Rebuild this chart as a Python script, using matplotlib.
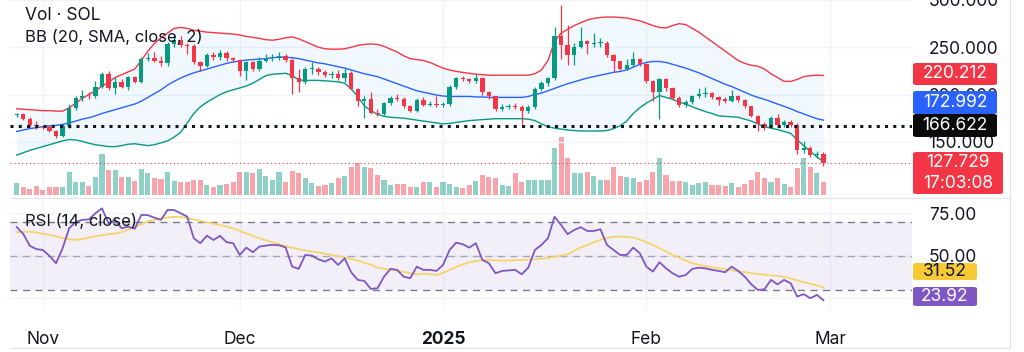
import numpy as np
import pandas as pd
import matplotlib
matplotlib.use('Agg')
import matplotlib.pyplot as plt
import matplotlib.dates as mdates
from matplotlib.patches import FancyBboxPatch
from matplotlib.lines import Line2D

plt.rcParams['font.family'] = ['Inter', 'DejaVu Sans']

# daily SOL candles, 28 Oct 2024 .. 28 Feb 2025
dates = pd.date_range('2024-10-28', '2025-02-28', freq='D')

opens = [178, 179.5, 174.7, 167.5, 166.5, 166, 162, 156.5, 167, 185.5,
         196, 199, 198, 208, 222, 206.5, 213, 208.5, 218.5, 213,
         238, 238.5, 235.5, 233, 253, 258, 252.5, 251, 234.5, 230,
         242, 239.5, 244, 238.5, 236.5, 225, 234, 227.5, 235, 239,
         239.5, 241, 237, 217, 213, 227, 227.5, 223.5, 220.5, 222,
         217, 223, 206, 193, 195, 181, 179, 191, 196, 195.5,
         187.5, 183, 194.5, 189.5, 190.5, 188.5, 190.5, 208, 217.5, 216.5,
         214, 218, 202.5, 198, 185, 187, 187.5, 187, 182.5, 186.5,
         206, 212, 217, 262, 252.5, 241.5, 250, 257, 254, 254.5,
         255, 241.5, 235, 227.5, 231.5, 238, 232, 214, 203, 216.5,
         206.5, 196, 189, 192.5, 198.5, 201, 201.5, 197, 195.5, 193.5,
         198.5, 194, 187.5, 177, 169, 166, 175.5, 168, 171, 168,
         141, 144, 136, 137.5]
highs = [181, 180.5, 176, 172, 168, 168, 163, 169, 190, 198,
         205, 203, 214, 224, 225, 219, 216, 220, 220, 240,
         244, 245, 241, 256, 264, 262, 255, 253, 236, 244,
         245, 247, 246, 240, 238, 236, 236, 240, 243, 243,
         245, 243, 239, 227, 229, 234, 229, 226, 225, 226,
         229, 225, 207, 199, 203, 185, 192, 198, 201, 197,
         189, 196, 197, 193, 198, 192, 210, 219, 220, 218,
         222, 219, 204, 199, 190, 190, 191, 189, 189, 208,
         214, 219, 271, 295, 274, 255, 271, 258, 265, 260,
         257, 243, 236, 238, 245, 239, 233, 215, 218, 218,
         208, 198, 194, 200, 207, 208, 203, 198, 197, 205,
         200, 195, 188, 178, 171, 177, 179, 173, 173, 170,
         151, 146, 140, 139]
lows = [176, 173.5, 166, 164, 164, 160, 154.5, 155, 165, 184,
        193, 195, 196, 207, 205, 201, 207, 205, 212, 212,
        235, 234, 230, 230, 250, 250, 243, 232, 225, 229,
        237, 237, 236, 234, 220, 215, 225, 225, 234, 236,
        237, 234, 201, 203, 211, 222, 221, 219, 218, 215,
        213.5, 205, 188, 175, 179, 177.5, 177, 189, 193, 186,
        182, 182, 188, 188, 187, 187, 188, 206, 214, 212,
        212, 200, 195, 183, 183, 185, 185, 168.5, 180, 185,
        204, 209, 215, 238, 231, 231, 249, 243, 250, 250,
        240, 224, 226, 226, 229, 230, 212, 193, 174, 204,
        194, 187, 187, 190, 196, 197, 195, 189, 191, 192,
        192, 186, 176, 161.5, 163, 165, 166, 166, 166, 137,
        138, 134, 133, 125]
closes = [179, 174.7, 167.5, 166.5, 166, 161.5, 156.5, 167, 185.5, 196,
          199, 198, 208, 222, 206.5, 213, 208.5, 218.5, 213, 238,
          238.5, 235.5, 233, 253, 258, 252.5, 251, 234.5, 230, 242,
          239.5, 244, 238.5, 236.5, 225, 234, 227.5, 235, 239, 239.5,
          241, 237, 217, 213, 227, 227.5, 223.5, 220.5, 222, 217,
          223, 206, 193, 195, 181, 179, 191, 196, 195.5, 187.5,
          183, 194.5, 189.5, 190.5, 188.5, 190.5, 208, 217.5, 216.5, 214,
          218, 202.5, 198, 185, 187, 187.5, 187, 182.5, 186.5, 206,
          212, 217, 262, 252.5, 241.5, 250, 257, 254, 254.5, 255,
          241.5, 235, 227.5, 231.5, 238, 232, 214, 203, 216.5, 206.5,
          196, 189, 192.5, 198.5, 201, 201.5, 197, 194.5, 193.5, 198.5,
          194, 187.5, 177, 169, 166, 175.5, 168, 171, 168, 141,
          144, 136, 137, 127.729]
volume = [12.3, 8.3, 5.7, 9, 5, 7.7, 7.7, 8.3, 23.3, 13.3,
          13.3, 9, 17.7, 41, 25, 25, 18.3, 18.3, 14.3, 25.7,
          21.7, 16.7, 15.7, 23.3, 14.3, 13.3, 13.3, 15, 15, 10,
          8.3, 10, 11, 13.3, 23.3, 23.3, 21.7, 25.7, 19, 15,
          23, 13.3, 24.3, 22.3, 16.7, 12, 9, 10, 12.3, 16.7,
          19, 27.7, 31.7, 27.7, 26.7, 20, 15, 10, 11, 11,
          8.3, 7.7, 13.3, 13.3, 8.3, 13.3, 11, 7.7, 6.7, 10,
          14.3, 20, 18.3, 16.7, 10, 9, 21.7, 13.3, 15, 15,
          15, 15, 46.7, 57.7, 36.7, 21.7, 21.7, 23.3, 19, 15,
          15, 28.3, 19, 18.3, 16.7, 13.3, 15, 23.3, 36.7, 20,
          14, 14, 13.3, 10, 12.3, 13.3, 10, 10, 9, 11.7,
          8.3, 11, 15, 23.3, 16.7, 13.3, 16.7, 11, 8.3, 26.7,
          36.7, 28.3, 22.3, 13.3]

# Bollinger Bands (20, SMA, close, 2)
bb_upper = [185, 184.5, 184, 183.5, 183, 183, 182.5, 182.5, 186, 191,
            196, 200, 204, 209, 213, 218, 221, 224, 227, 236,
            246, 254, 260, 265, 270, 271, 270, 268, 267, 266,
            265.5, 265, 264.5, 264, 263, 261.5, 260.5, 259.5, 258, 257.5,
            258.5, 260, 261, 259, 256, 253, 250, 248.5, 248, 248,
            248.5, 250, 252, 253, 253.5, 253, 251, 248, 245, 241,
            238, 237, 236, 234, 231, 228, 226, 224.5, 223.5, 222.5,
            221.5, 221, 220.5, 220.5, 220.5, 220.5, 220.5, 220.5, 220.5, 222,
            226, 236, 256, 265, 269, 273, 276, 279, 280.5, 281.5,
            282, 282, 281.5, 281, 279.5, 278, 275.5, 273, 271, 270.5,
            273, 275, 274, 270, 266, 261, 256, 251, 246, 241,
            236, 233, 231, 230, 227, 222, 218, 214, 214, 216,
            219, 220, 220.5, 220.212]
bb_basis = [161, 162.5, 164, 165, 166, 167, 167.5, 168.5, 170, 172,
            174, 175.5, 177.5, 180, 182, 184, 186, 188, 190, 193,
            197, 201, 205, 210, 214, 217.5, 220.5, 223, 225, 227,
            229, 231, 233, 234.5, 235.5, 236.5, 237, 237.5, 238, 239,
            239.5, 239.5, 239, 238, 236.5, 235, 233.5, 232.5, 231, 229.5,
            228, 226, 224, 222, 220.5, 219, 216.5, 214, 211.5, 209,
            206.5, 204, 202.5, 201, 199.5, 198.5, 198, 198, 198, 198,
            197.5, 197.5, 197, 197, 197, 197, 197, 197, 198, 200,
            201.5, 204, 206.5, 209, 211.5, 213.5, 215.5, 217.5, 219, 220.5,
            222, 223.5, 224.5, 226, 229, 232, 234, 235, 235, 234,
            232, 230, 228, 225.5, 223, 220, 217, 214, 211, 208.5,
            205.5, 202.5, 199.5, 197, 195, 192.5, 190, 187.5, 185, 182,
            179.5, 177, 174.5, 172.992]
bb_lower = [136, 138.5, 141, 143, 145, 147, 149, 151, 152.5, 152,
            150.5, 148.5, 147, 146, 145, 145, 146, 147.5, 148, 147,
            146, 147, 149, 151, 155, 160, 170, 180, 187, 192,
            196, 200, 203, 205, 207, 209, 212, 216, 220, 221.5,
            222, 222.5, 220, 215.5, 215, 215, 215, 214.5, 214, 213.5,
            212, 206, 198, 188, 183, 179, 177, 176, 175.5, 175,
            174, 173, 172, 171, 170, 169, 169.5, 170.5, 171.5, 172.5,
            173, 173.5, 174, 174.5, 174.5, 174.5, 174.5, 174.5, 174, 172.5,
            169, 166, 164.5, 163.5, 162.5, 162, 161.5, 161.5, 161.5, 161.5,
            162, 164, 167, 172, 180, 186, 191, 195, 199, 197,
            195, 192, 190, 187, 184.5, 182, 180, 177.5, 177, 176.5,
            176, 174, 172, 169, 166, 164.5, 163, 161, 159, 152,
            146, 140, 134, 129]

# RSI (14, close) and its moving average
rsi = [67, 63, 56, 54, 53.5, 50, 45.7, 54.5, 66.3, 70,
       71.2, 71.5, 75.1, 78, 69.2, 71.2, 66.3, 67.2, 66, 74.1,
       74, 72.5, 71.2, 77.1, 77, 75.1, 73.1, 60.4, 57.5, 61.9,
       59.4, 61.8, 58.1, 57.5, 50.6, 54.9, 52.2, 55.5, 56.1, 56.5,
       56.3, 55, 43.7, 42.4, 50.6, 50.2, 48, 46.7, 48.6, 44.7,
       48.6, 40.4, 35.9, 35.3, 30.6, 31, 37.8, 42.4, 41.8, 37.8,
       36.9, 43.7, 41.8, 41.8, 41.2, 44.7, 53.5, 57.8, 56.9, 54.9,
       57.5, 47.6, 45.7, 39.8, 41.2, 41.5, 41.8, 39.2, 43.1, 53.5,
       56.5, 60.4, 73.1, 68.2, 62.8, 65.3, 66.9, 64.7, 64.7, 65.7,
       56.5, 53.5, 50.6, 50.6, 54.9, 51.6, 43.7, 40.8, 46.3, 42.7,
       39.8, 37.8, 38.8, 42.4, 43.1, 42.7, 41.8, 41.2, 40.4, 43.7,
       41.2, 37.8, 33.3, 30, 30.4, 35.9, 33.3, 35.9, 33.9, 26.1,
       27.5, 25.1, 27.1, 23.92]
rsi_ma = [64, 64.2, 64.3, 63.8, 63, 62.4, 61.5, 60.5, 59.8, 59.4,
          60, 60.8, 61.6, 62.2, 62.8, 63.2, 64, 65.5, 67, 68.6,
          70.4, 71.2, 72, 72.6, 73, 72.9, 72.3, 71.5, 70.6, 69.8,
          69, 68.2, 67.2, 66.2, 64.8, 63.3, 61.8, 60.4, 59.2, 58,
          57, 55.8, 54.8, 54, 53.2, 52.6, 52, 51.3, 50.6, 49.9,
          49.2, 48.2, 47.2, 46, 44.8, 43.2, 42.5, 41.8, 41.3, 40.6,
          39.8, 39.2, 39.6, 39.2, 38.8, 40, 41.8, 43.5, 45, 46.2,
          47, 47.6, 47.6, 47.4, 47.2, 47.3, 47.5, 47.6, 47.8, 48,
          48.3, 48.8, 49.5, 50.3, 51, 53, 55, 56.5, 58, 59.5,
          60.6, 61.2, 61.4, 61.2, 60.8, 59.6, 58, 56.5, 54.5, 52.6,
          50.6, 49, 47.4, 45.7, 44.8, 44, 43.4, 42.8, 42.2, 41.6,
          41, 40.5, 39.8, 39.4, 39, 38.6, 38.2, 37.8, 36.8, 35.6,
          34.6, 33.6, 32.6, 31.52]

alert_level = 166.622
countdown = '17:03:08'
price_ticks = [150, 200, 250, 300]
rsi_ticks = [50, 75]
month_ticks = pd.to_datetime(['2024-11-01', '2024-12-01', '2025-01-01', '2025-02-01', '2025-03-01'])
month_labels = ['Nov', 'Dec', '2025', 'Feb', 'Mar']

UP, DOWN = '#089981', '#F23645'
TXT = '#131722'
GRID = '#f0f3fa'

x = mdates.date2num(dates)
o, h, l, c = map(np.array, (opens, highs, lows, closes))
up = c >= o
col = np.where(up, UP, DOWN)

W, H = 1024, 352
fig = plt.figure(figsize=(W / 100, H / 100), dpi=100)
fig.set_facecolor('white')

rect_main = [10 / W, 1 - 197 / H, 902 / W, 197 / H]
ax_vol = fig.add_axes(rect_main)
ax = fig.add_axes(rect_main, sharex=ax_vol)
ax.patch.set_visible(False)
ax_rsi = fig.add_axes([10 / W, 1 - 310 / H, 902 / W, 111 / H], sharex=ax_vol)

ax.set_xlim(x[0] - 1.02, x[0] + 136.5)
ax.set_ylim(91.7, 296.9)
ax_vol.set_ylim(-2, 195)
ax_rsi.set_ylim(18.2, 83.5)

# grid (drawn on the volume axes so it sits behind everything)
for a in (ax_vol, ax_rsi):
    for t in mdates.date2num(month_ticks):
        a.axvline(t, color=GRID, lw=1, zorder=0)
for v in price_ticks:
    ax.axhline(v, color=GRID, lw=1, zorder=0)
for v in (25, 50, 75):
    ax_rsi.axhline(v, color=GRID, lw=1, zorder=0)

# volume
ax_vol.bar(x, volume, width=0.78, color=col, alpha=0.45, lw=0, zorder=1)

# bollinger bands
ax.fill_between(x, bb_lower, bb_upper, color='#2196F3', alpha=0.065, lw=0, zorder=1)
ax.plot(x, bb_upper, color=DOWN, lw=1.0, zorder=2)
ax.plot(x, bb_basis, color='#2962FF', lw=1.0, zorder=2)
ax.plot(x, bb_lower, color=UP, lw=1.0, zorder=2)

# candles
ax.vlines(x, l, h, colors=col, lw=0.9, zorder=3)
body = np.maximum(np.abs(c - o), 0.8)
ax.bar(x, body, bottom=np.minimum(o, c), width=0.66, color=col, lw=0, zorder=4)

ax.axhline(alert_level, color=TXT, lw=2.2, ls=(0, (1, 1.7)), zorder=5)
ax.axhline(closes[-1], color=DOWN, lw=0.8, ls=(0, (1, 2.5)), zorder=5)

# RSI
ax_rsi.axhspan(30, 70, color='#7E57C2', alpha=0.09, lw=0, zorder=1)
for lev, al in ((70, 1), (50, 0.6), (30, 1)):
    ax_rsi.axhline(lev, color='#787B86', lw=1, ls=(0, (5, 4)), alpha=al, zorder=2)
ax_rsi.plot(x, rsi_ma, color='#F5D46A', lw=1.3, zorder=3)
ax_rsi.plot(x, rsi, color='#7E57C2', lw=1.3, zorder=4)

# axes styling
for a in (ax, ax_vol, ax_rsi):
    for s in a.spines.values():
        s.set_visible(False)
ax_vol.tick_params(left=False, labelleft=False, bottom=False, labelbottom=False)
ax_vol.set_yticks([])
ax.yaxis.tick_right()
ax.set_yticks(price_ticks)
ax.set_yticklabels([f'{v:.3f}' for v in price_ticks])
ax.tick_params(axis='y', length=0, pad=12, labelsize=12.5, labelcolor=TXT)
ax.tick_params(axis='x', bottom=False, labelbottom=False)

ax_rsi.yaxis.tick_right()
ax_rsi.set_yticks(rsi_ticks)
ax_rsi.set_yticklabels([f'{v:.2f}' for v in rsi_ticks])
ax_rsi.tick_params(axis='y', length=0, pad=12, labelsize=12.5, labelcolor=TXT)
ax_rsi.set_xticks(mdates.date2num(month_ticks))
ax_rsi.set_xticklabels(month_labels)
ax_rsi.tick_params(axis='x', length=0, pad=15, labelsize=12.5, labelcolor=TXT)
ax_rsi.get_xticklabels()[2].set_fontweight('bold')

# legends
fig.text(25 / W, 1 - 16 / H, 'Vol · SOL', va='center', fontsize=12.5, color=TXT)
fig.text(25 / W, 1 - 37 / H, 'BB (20, SMA, close, 2)', va='center', fontsize=12, color=TXT)
fig.text(25 / W, 1 - 221 / H, 'RSI (14, close)', va='center', fontsize=12, color=TXT)


def tag(yc, hgt, wid, text, bg, fg):
    fig.patches.append(FancyBboxPatch((913 / W, 1 - (yc + hgt / 2) / H), wid / W, hgt / H,
                                      boxstyle='round,pad=0,rounding_size=0.004',
                                      transform=fig.transFigure, fc=bg, ec='none', zorder=2))
    fig.text((913 + wid / 2) / W, 1 - yc / H, text, ha='center', va='center',
             fontsize=12.5, color=fg, linespacing=1.3, zorder=3)


tag(74, 22, 84, f'{bb_upper[-1]:.3f}', DOWN, 'white')
tag(102.5, 23, 84, f'{bb_basis[-1]:.3f}', '#2962FF', 'white')
tag(125.5, 23, 84, f'{alert_level:.3f}', '#0b0b0b', 'white')
tag(173, 42, 90, f'{closes[-1]:.3f}\n{countdown}', DOWN, 'white')
tag(271.5, 17, 64, f'{rsi_ma[-1]:.2f}', '#F7C934', TXT)
tag(296.5, 19, 64, f'{rsi[-1]:.2f}', '#7E57C2', 'white')

# frame lines
fig.add_artist(Line2D([10 / W, 1010 / W], [1 - 198 / H] * 2, color='#e0e3eb', lw=0.8))
fig.add_artist(Line2D([1010 / W] * 2, [1 - 348 / H, 1], color='#e0e3eb', lw=0.8))
fig.add_artist(Line2D([10 / W, 1010 / W], [1 - 348 / H] * 2, color='#e0e3eb', lw=0.8))

fig.savefig('out.png', dpi=100, facecolor='white')
